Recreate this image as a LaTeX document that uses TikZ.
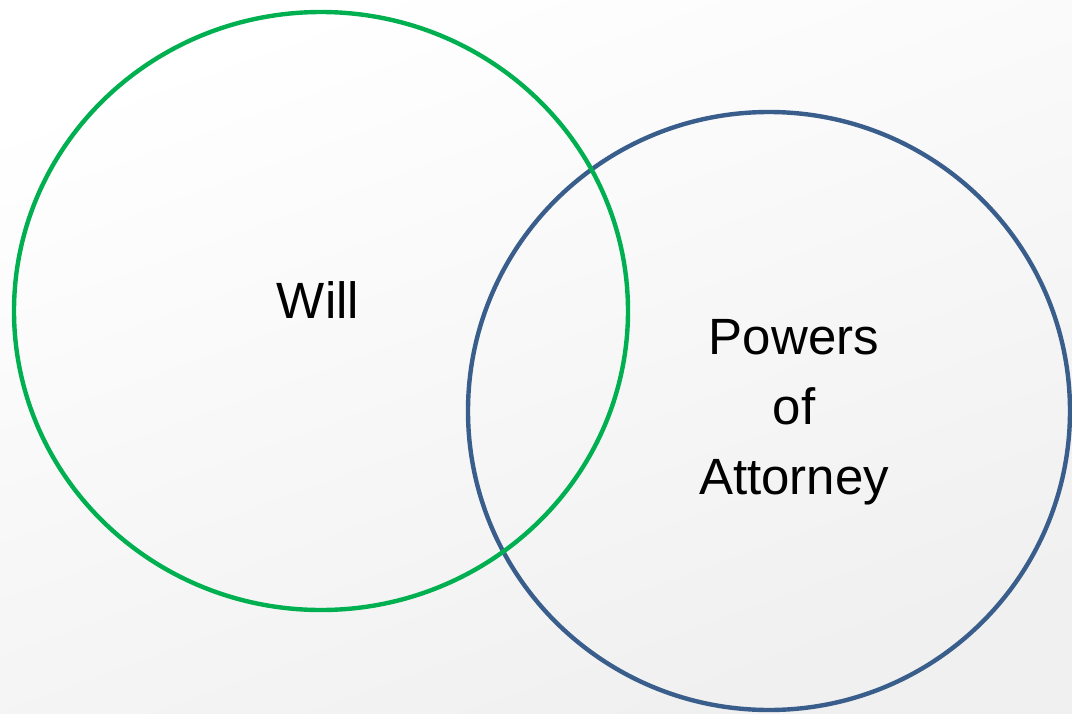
\documentclass[tikz,border=0pt]{standalone}
\usepackage{fontspec}
\setmainfont{Liberation Sans}
\usetikzlibrary{shapes.geometric}

\definecolor{willgreen}{HTML}{00B050}
\definecolor{poablue}{HTML}{3A5E8C}

\begin{document}
\begin{tikzpicture}[x=1pt,y=-1pt,
        set/.style={ellipse,draw,line width=4.4pt,inner sep=0pt},
        label text/.style={font=\fontsize{51}{70}\selectfont,align=center,text=black}]
        % backdrop
        \shade[top color=white,bottom color=black!6,shading angle=20] (0,0) rectangle (1072,713);
        \useasboundingbox (0,0) rectangle (1072,713);
        % the two sets
        \node[set,draw=poablue,minimum width=602pt,minimum height=598pt] (poa) at (769,411) {};
        \node[set,draw=willgreen,minimum width=614pt,minimum height=598pt] (will) at (321,311) {};
        % labels
        \node[label text] (willtext) at (318,300) {Will};
        \node[label text] (poatext) at (794,412) {Powers\\of\\Attorney};
    \end{tikzpicture}
\end{document}
